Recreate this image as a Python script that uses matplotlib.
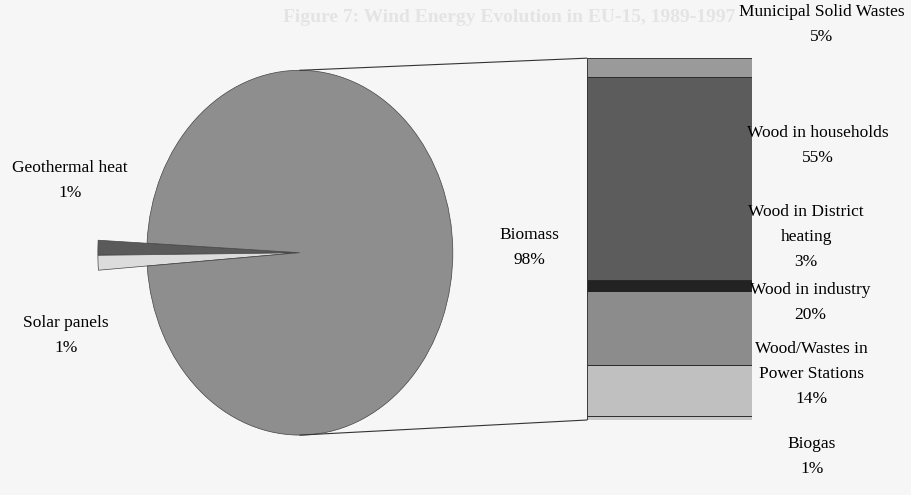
import numpy as np
import matplotlib.pyplot as plt
from matplotlib.patches import ConnectionPatch

plt.rcParams['font.family'] = ['Liberation Serif', 'DejaVu Serif']

# --- Datos ---
pie_labels = ['Geothermal heat', 'Solar panels', 'Biomass']
pie_values = [1, 1, 98]
pie_colors = ['#5a5a5a', '#dcdcdc', '#8e8e8e']

bar_labels = ['Biogas', 'Wood/Wastes in\nPower Stations', 'Wood in industry',
              'Wood in District\nheating', 'Wood in households', 'Municipal Solid Wastes']
bar_values = [1, 14, 20, 3, 55, 5]
bar_colors = ['#c8c8c8', '#c0c0c0', '#8c8c8c', '#222222', '#5c5c5c', '#9a9a9a']

fig = plt.figure(figsize=(9.12, 4.95), dpi=100)
fig.patch.set_facecolor('#f6f6f6')

# texto fantasma del reverso de la hoja
fig.text(0.31, 0.965, 'Figure 7: Wind Energy Evolution in EU-15, 1989-1997',
         fontsize=14, fontweight='bold', color='#e4e4e4', va='center')

# --- Pie ---
ax_pie = fig.add_axes([0.161, 0.121, 0.3355, 0.737])
wedges, _ = ax_pie.pie(pie_values, colors=pie_colors, startangle=177,
                       explode=[0.02, 0.02, 0],
                       wedgeprops=dict(edgecolor='#444444', linewidth=0.5))
for w in wedges[:2]:
    w.set_radius(1.3)
for w in wedges:
    w.set_clip_on(False)
ax_pie.set_aspect('auto')
ax_pie.set_xlim(-1, 1)
ax_pie.set_ylim(-1, 1)
ax_pie.axis('off')

fs = 12.5
ls = 1.75
fig.text(0.077, 0.635, 'Geothermal heat\n1%', ha='center', va='center',
         fontsize=fs, linespacing=ls)
fig.text(0.072, 0.322, 'Solar panels\n1%', ha='center', va='center',
         fontsize=fs, linespacing=ls)
fig.text(0.581, 0.5, 'Biomass\n98%', ha='center', va='center',
         fontsize=fs, linespacing=ls)

# --- Barra apilada ---
ax_bar = fig.add_axes([0.6436, 0.1515, 0.181, 0.731])
bottom = 0
for val, col in zip(bar_values, bar_colors):
    ax_bar.bar(0, val, bottom=bottom, width=1, color=col,
               edgecolor='#222222', linewidth=0.6)
    bottom += val
ax_bar.set_xlim(-0.5, 0.5)
ax_bar.set_ylim(0, sum(bar_values))
ax_bar.axis('off')

label_pos = [(0.89, 0.078), (0.89, 0.245), (0.888, 0.388),
             (0.884, 0.522), (0.897, 0.706), (0.901, 0.951)]
for lab, val, (x, y) in zip(bar_labels, bar_values, label_pos):
    fig.text(x, y, f'{lab}\n{val}%', ha='center', va='center',
             fontsize=fs, linespacing=ls)

# --- Líneas de conexión ---
for yp, yb in [(1, sum(bar_values)), (-1, 0)]:
    con = ConnectionPatch(xyA=(0, yp), coordsA=ax_pie.transData,
                          xyB=(-0.5, yb), coordsB=ax_bar.transData,
                          color='#333333', linewidth=0.8)
    fig.add_artist(con)

plt.savefig('out.png', dpi=100, facecolor=fig.get_facecolor())
